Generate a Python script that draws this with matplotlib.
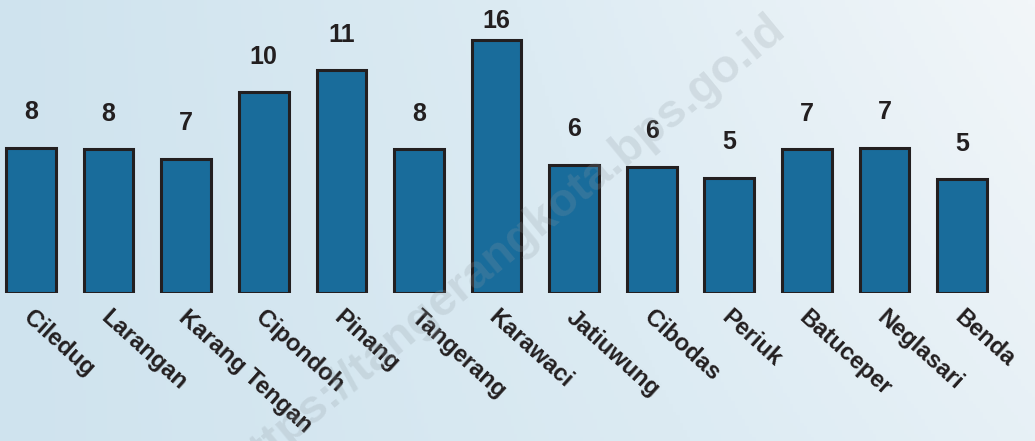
import numpy as np
import matplotlib
matplotlib.use("Agg")
import matplotlib.pyplot as plt
from matplotlib.colors import LinearSegmentedColormap
import matplotlib.transforms as mtransforms

plt.rcParams['font.family'] = ['Liberation Sans', 'DejaVu Sans']

# Kecamatan di Kota Tangerang
districts = ["Ciledug", "Larangan", "Karang Tengan", "Cipondoh", "Pinang",
             "Tangerang", "Karawaci", "Jatiuwung", "Cibodas", "Periuk",
             "Batuceper", "Neglasari", "Benda"]
# bar heights as drawn in the picture (scale: Karawaci = 16)
bar_heights = [9.2, 9.1, 8.5, 12.7, 14.1, 9.1, 16.0, 8.1, 8.0, 7.3, 9.1, 9.2, 7.2]
# value labels printed above the bars
value_labels = [8, 8, 7, 10, 11, 8, 16, 6, 6, 5, 7, 7, 5]

bar_color = "#196c9b"
ink = "#231f20"

fig = plt.figure(figsize=(10.35, 4.41), dpi=100)

# soft light-blue background
bg = fig.add_axes([0, 0, 1, 1], zorder=0)
gx = np.linspace(0, 1, 300)
gy = np.linspace(0, 1, 120)
grad = 0.75 * gx[None, :] + 0.25 * (1 - gy[:, None]) * gx[None, :]
cmap = LinearSegmentedColormap.from_list("bgc", ["#cfe3ee", "#dcebf3", "#f2f6f9"])
bg.imshow(grad, cmap=cmap, aspect="auto", extent=[0, 1, 0, 1])
bg.axis("off")

ax = fig.add_axes([0, 148 / 441, 1, 293 / 441], zorder=1)
ax.patch.set_alpha(0)

ymax = 18.54
x = np.arange(len(districts))
bars = ax.bar(x, bar_heights, width=0.64, color=bar_color, edgecolor=ink, linewidth=2.2)

# labels sit above the bars, but never closer than ~20px to the top edge
for xi, h, lab in zip(x, bar_heights, value_labels):
    ly = min(h + 2.25, ymax - 1.3)
    ax.text(xi, ly, str(lab), ha="center", va="center", fontsize=18,
            fontweight="bold", color=ink)

ax.set_xlim(-0.4, 12.94)
ax.set_ylim(0, ymax)
ax.set_xticks(x, districts, rotation=-42, ha="left", rotation_mode="anchor",
              fontsize=17, fontweight="bold", color=ink)
ax.tick_params(axis="x", length=0, pad=9)
shift = mtransforms.ScaledTranslation(3 / 100, 0, fig.dpi_scale_trans)
for t in ax.get_xticklabels():
    t.set_transform(t.get_transform() + shift)
ax.set_yticks([])
for s in ax.spines.values():
    s.set_visible(False)

# watermark
fig.text(0.49, 0.44, "https://tangerangkota.bps.go.id", rotation=39.5,
         ha="center", va="center", fontsize=34, fontweight="bold",
         color="#8f9aa1", alpha=0.22, zorder=5)

fig.savefig("out.png", dpi=100)
